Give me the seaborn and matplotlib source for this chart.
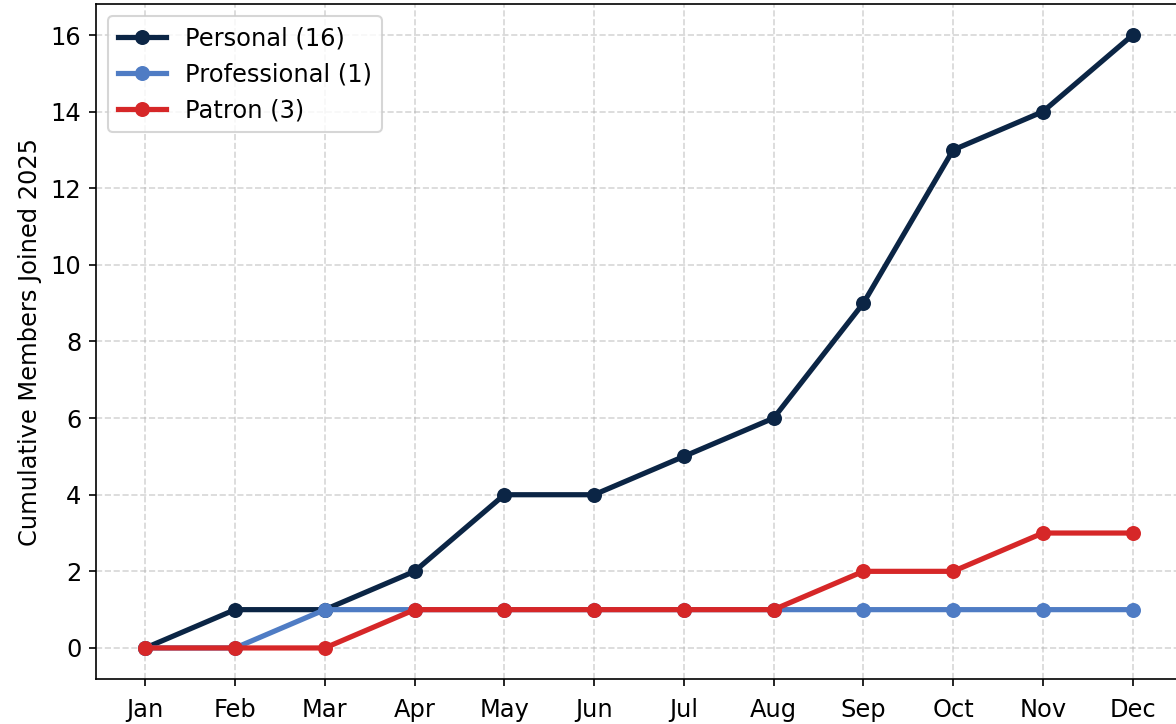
import pandas as pd
import matplotlib
matplotlib.use("Agg")
import matplotlib.pyplot as plt
import seaborn as sns

months = ["Jan", "Feb", "Mar", "Apr", "May", "Jun",
          "Jul", "Aug", "Sep", "Oct", "Nov", "Dec"]
personal = [0, 1, 1, 2, 4, 4, 5, 6, 9, 13, 14, 16]
professional = [0, 0, 1, 1, 1, 1, 1, 1, 1, 1, 1, 1]
patron = [0, 0, 0, 1, 1, 1, 1, 1, 2, 2, 3, 3]

series_names = ["Personal", "Professional", "Patron"]
series_values = [personal, professional, patron]
series_colors = ["#0b2545", "#4f7cc4", "#d62728"]


def main():
    plt.rcParams["font.size"] = 11.6
    fig = plt.figure(figsize=(7.84, 4.8267), dpi=150)
    # axes runs a little past the right edge, like the cropped original
    ax = fig.add_axes([96 / 1176, 45.4 / 724, 1086 / 1176, 674.2 / 724])

    x = list(range(len(months)))
    for name, vals, color in zip(series_names, series_values, series_colors):
        df = pd.DataFrame({"month": x, "count": vals})
        sns.lineplot(data=df, x="month", y="count", ax=ax, color=color,
                     marker="o", markersize=7.2, markeredgewidth=0,
                     linewidth=2.5, label=f"{name} ({vals[-1]})")

    ax.set_xticks(x)
    ax.set_xticklabels(months)
    ax.tick_params(axis="x", pad=6)
    ax.set_xlabel("")
    ax.set_ylabel("Cumulative Members Joined 2025")
    ax.grid(True, linestyle="--", alpha=0.5)
    ax.legend(loc="upper left")

    fig.savefig("out.png", dpi=150)
    plt.close(fig)


if __name__ == "__main__":
    main()
